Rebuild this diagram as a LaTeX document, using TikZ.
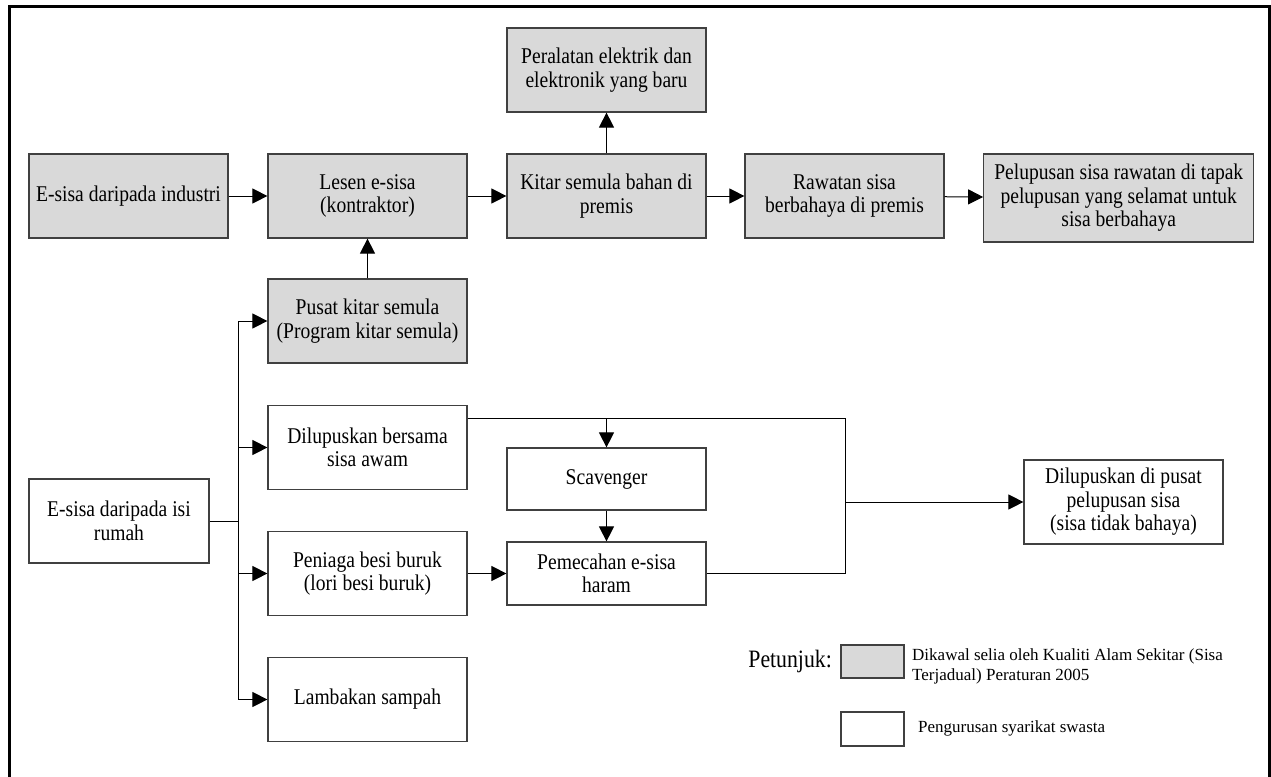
\documentclass[tikz,border=0pt]{standalone}
\usepackage{fontspec}
\setmainfont{Liberation Serif}[FakeStretch=0.87]
\newfontfamily\legendfont{Liberation Serif}
\usetikzlibrary{arrows.meta}
\definecolor{boxgray}{RGB}{217,217,217}
\definecolor{boxline}{RGB}{64,64,64}

\begin{document}
\begin{tikzpicture}[x=1pt,y=-1pt,
  box/.style={draw=boxline,line width=1.2pt,minimum width=199pt,minimum height=84pt,
    inner sep=2pt,align=center,font=\fontsize{22.5}{23.5}\selectfont},
  grey/.style={box,fill=boxgray},
  arr/.style={-{Triangle[length=15pt,width=15pt]},line width=1pt},
  lin/.style={line width=1pt}]
\clip (0,0) rectangle (1271,776);
\draw[line width=3pt] (9,790) -- (9,7) -- (1269,7) -- (1269,790);
% regulated flow
\node[grey] (industri) at (128.5,196) {E-sisa daripada industri};
\node[grey] (lesen) at (367.5,196) {Lesen e-sisa\\(kontraktor)};
\node[grey] (kitar) at (606.5,196) {Kitar semula bahan di\\premis};
\node[grey] (peralatan) at (606.5,70) {Peralatan elektrik dan\\elektronik yang baru};
\node[grey] (rawatan) at (844.5,196) {Rawatan sisa\\berbahaya di premis};
\node[grey,minimum width=270pt,minimum height=88pt] (pelupusan) at (1118.75,198)
  {Pelupusan sisa rawatan di tapak\\pelupusan yang selamat untuk\\sisa berbahaya};
\node[grey] (pusat) at (367.5,321) {Pusat kitar semula\\(Program kitar semula)};
% household flow
\node[box] (bersama) at (367.5,447.5) {Dilupuskan bersama\\sisa awam};
\node[box,minimum width=180pt] (rumah) at (119,521) {E-sisa daripada isi\\rumah};
\node[box] (peniaga) at (367.5,573.5) {Peniaga besi buruk\\(lori besi buruk)};
\node[box] (lambakan) at (367.5,699.5) {Lambakan sampah};
\node[box,minimum height=62pt] (scavenger) at (606.5,479) {Scavenger};
\node[box,minimum height=63pt] (pemecahan) at (606.5,573.5) {Pemecahan e-sisa\\haram};
\node[box] (tapak) at (1123.5,502) {Dilupuskan di pusat\\pelupusan sisa\\(sisa tidak bahaya)};
% legend
\node[anchor=east,inner sep=0pt,font=\fontsize{25}{27}\selectfont] (petunjuk) at (832,661) {Petunjuk:};
\node[grey,minimum width=63pt,minimum height=33pt] (leggrey) at (872.5,661.5) {};
\node[box,minimum width=63pt,minimum height=34pt] (legwhite) at (872.5,729) {};
\node[anchor=west,align=left,inner sep=0pt,font=\legendfont\fontsize{17}{20}\selectfont] (legtext1) at (912,666)
  {Dikawal selia oleh Kualiti Alam Sekitar (Sisa\\Terjadual) Peraturan 2005};
\node[anchor=west,inner sep=0pt,font=\legendfont\fontsize{17}{20}\selectfont] (legtext2) at (918,728)
  {Pengurusan syarikat swasta};
% connectors
\draw[arr] (industri) -- (lesen);
\draw[arr] (lesen) -- (kitar);
\draw[arr] (kitar) -- (peralatan);
\draw[arr] (kitar) -- (rawatan);
\draw[arr] (rawatan) -- (pelupusan);
\draw[arr] (pusat) -- (lesen);
\coordinate (bus) at (238,521);
\coordinate (atas) at (845,418);
\draw[lin] (rumah) -- (bus);
\draw[lin] (bus |- pusat) -- (bus |- lambakan);
\foreach \n in {pusat,bersama,peniaga,lambakan}
  \draw[arr] (bus |- \n) -- (\n);
\draw[lin] (bersama.east |- atas) -- (atas) -- (atas |- pemecahan) -- (pemecahan);
\draw[arr] (scavenger |- atas) -- (scavenger);
\draw[arr] (scavenger) -- (pemecahan);
\draw[arr] (peniaga) -- (pemecahan);
\draw[arr] (atas |- tapak) -- (tapak);
\end{tikzpicture}
\end{document}
